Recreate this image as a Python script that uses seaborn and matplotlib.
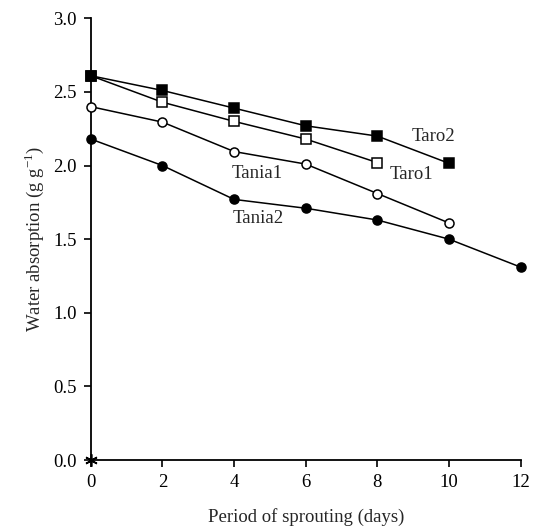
import matplotlib
matplotlib.use("Agg")
import matplotlib.pyplot as plt
import seaborn as sns
import pandas as pd

days = [0, 2, 4, 6, 8, 10, 12]
taro2 = [2.61, 2.51, 2.39, 2.27, 2.20, 2.015]
taro1 = [2.61, 2.43, 2.30, 2.18, 2.02]
tania1 = [2.40, 2.295, 2.095, 2.01, 1.81, 1.61]
tania2 = [2.18, 2.00, 1.77, 1.71, 1.63, 1.50, 1.31]
series_names = ["Taro2", "Taro1", "Tania1", "Tania2"]
label_pos = {"Taro2": (8.97, 2.196), "Taro1": (8.35, 1.936),
             "Tania1": (3.93, 1.948), "Tania2": (3.96, 1.642)}
yticks = [0.0, 0.5, 1.0, 1.5, 2.0, 2.5, 3.0]
xticks = [0, 2, 4, 6, 8, 10, 12]

sns.set_style("ticks")
plt.rcParams["font.family"] = ["Liberation Serif", "DejaVu Serif"]
plt.rcParams["mathtext.fontset"] = "custom"
plt.rcParams["mathtext.rm"] = "Liberation Serif"

fig = plt.figure(figsize=(5.34, 5.29), dpi=100)
ax = fig.add_axes([0.170, 0.1304, 0.805, 0.835])

vals = {"Taro2": taro2, "Taro1": taro1, "Tania1": tania1, "Tania2": tania2}
styles = {
    "Taro2": dict(marker="s", mfc="black", ms=7.5),
    "Taro1": dict(marker="s", mfc="white", ms=6.5),
    "Tania1": dict(marker="o", mfc="white", ms=6.5),
    "Tania2": dict(marker="o", mfc="black", ms=6.5),
}
for name in ["Tania2", "Tania1", "Taro1", "Taro2"]:
    v = vals[name]
    df = pd.DataFrame({"day": days[:len(v)], "wa": v})
    st = styles[name]
    sns.lineplot(data=df, x="day", y="wa", ax=ax, color="black", lw=1.1,
                 marker=st["marker"], markerfacecolor=st["mfc"],
                 markeredgecolor="black", markeredgewidth=1.1,
                 markersize=st["ms"], clip_on=False, zorder=3)

ax.plot([0], [0], marker=(6, 2, 0), color="black", ms=9, mew=1.2,
        clip_on=False, zorder=4)

for name in series_names:
    x, y = label_pos[name]
    ax.text(x, y, name, fontsize=13.5, ha="left", va="center")

ax.set_xlim(0, 12)
ax.set_ylim(0, 3)
ax.set_xticks(xticks)
ax.set_yticks(yticks)
ax.set_yticklabels([f"{t:.1f}" for t in yticks])
ax.tick_params(axis="both", direction="out", length=5, width=1.2, pad=5,
               labelsize=13.5, color="black", labelcolor="black")
for s in ["top", "right"]:
    ax.spines[s].set_visible(False)
for s in ["left", "bottom"]:
    ax.spines[s].set_linewidth(1.3)
    ax.spines[s].set_color("black")

ax.set_xlabel("Period of sprouting (days)", fontsize=13.5, labelpad=12)
ax.set_ylabel(r"Water absorption (g g$^{-1}$)", fontsize=13.5, labelpad=5)

fig.savefig("out.png", dpi=100)
